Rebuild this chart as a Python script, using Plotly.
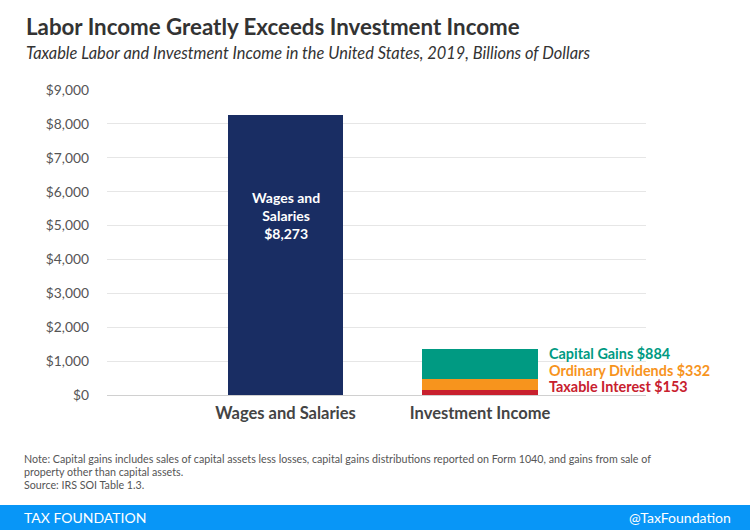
import plotly.graph_objects as go

categories = ["Wages and Salaries", "Investment Income"]
wages = [8273]
inv_labels = ["Taxable Interest", "Ordinary Dividends", "Capital Gains"]
inv_values = [153, 332, 884]
inv_colors = ["#c8202e", "#f7941d", "#009a82"]
tick_vals = [0, 1000, 2000, 3000, 4000, 5000, 6000, 7000, 8000, 9000]
tick_text = ["$0", "$1,000", "$2,000", "$3,000", "$4,000", "$5,000", "$6,000", "$7,000", "$8,000", "$9,000"]

W, H = 750, 530
L, R, T, B = 107, 104, 90, 135
PW = W - L - R
PH = H - T - B

def px(x):
    return (x - L) / PW

def py(y):
    return (H - B - y) / PH

fig = go.Figure()
fig.add_trace(go.Bar(x=[0], y=wages, width=0.59, marker=dict(color="#192d63", line=dict(width=0)),
                     hoverinfo="skip", showlegend=False))
for lab, v, c in zip(inv_labels, inv_values, inv_colors):
    fig.add_trace(go.Bar(x=[1], y=[v], width=0.595, marker=dict(color=c, line=dict(width=0)),
                         name=lab, hoverinfo="skip", showlegend=False))

annotations = []
annotations.append(dict(x=0, y=5300, xref="x", yref="y", showarrow=False,
                        text="<b>Wages and<br>Salaries<br>$%s</b>" % format(wages[0], ","),
                        font=dict(family="Lato", size=14, color="white"), align="center"))
label_py = [386, 370, 353]
for lab, v, c, yy in zip(inv_labels, inv_values, inv_colors, label_py):
    annotations.append(dict(x=px(547), y=py(yy), xref="paper", yref="paper", showarrow=False,
                            xanchor="left", yanchor="middle",
                            text="<b>%s $%d</b>" % (lab, v),
                            font=dict(family="Lato", size=14.4, color=c)))
annotations.append(dict(x=px(24), y=py(27), xref="paper", yref="paper", showarrow=False,
                        xanchor="left", yanchor="middle",
                        text="<b>Labor Income Greatly Exceeds Investment Income</b>",
                        font=dict(family="Lato", size=22.3, color="#333333")))
annotations.append(dict(x=px(24), y=py(52), xref="paper", yref="paper", showarrow=False,
                        xanchor="left", yanchor="middle",
                        text="<i>Taxable Labor and Investment Income in the United States, 2019, Billions of Dollars</i>",
                        font=dict(family="Lato", size=16.4, color="#333333")))
notes = ["Note: Capital gains includes sales of capital assets less losses, capital gains distributions reported on Form 1040, and gains from sale of",
         "property other than capital assets.",
         "Source: IRS SOI Table 1.3."]
for i, n in enumerate(notes):
    annotations.append(dict(x=px(22), y=py(458 + i * 13), xref="paper", yref="paper", showarrow=False,
                            xanchor="left", yanchor="middle", text=n,
                            font=dict(family="Lato", size=10.7, color="#555555")))
annotations.append(dict(x=px(22), y=py(517), xref="paper", yref="paper", showarrow=False,
                        xanchor="left", yanchor="middle", text="TAX FOUNDATION",
                        font=dict(family="Lato", size=14, color="white")))
annotations.append(dict(x=px(733), y=py(517), xref="paper", yref="paper", showarrow=False,
                        xanchor="right", yanchor="middle", text="@TaxFoundation",
                        font=dict(family="Lato", size=14, color="white")))

shapes = [dict(type="rect", xref="paper", yref="paper", x0=px(-5), x1=px(755), y0=py(535), y1=py(505),
               fillcolor="#0896f7", line=dict(width=0), layer="above")]

fig.update_layout(
    width=W, height=H, barmode="stack", bargap=0,
    margin=dict(l=L, r=R, t=T, b=B, pad=0),
    paper_bgcolor="white", plot_bgcolor="white",
    font=dict(family="Lato"),
    annotations=annotations, shapes=shapes,
    xaxis=dict(range=[-0.918, 1.853], tickvals=[0, 1], ticktext=["<b>%s</b>" % c for c in categories],
               tickfont=dict(family="Lato", size=16.5, color="#444444"), showgrid=False, zeroline=False,
               showline=False, ticks="", ticklabelstandoff=6, fixedrange=True),
    yaxis=dict(range=[0, 9000], tickvals=tick_vals, ticktext=tick_text,
               tickfont=dict(family="Lato", size=13.8, color="#555555"), showgrid=True,
               gridcolor="#e6e6e6", gridwidth=1, zeroline=True, zerolinecolor="#d0d0d0", zerolinewidth=1,
               ticks="", ticklabelstandoff=17, fixedrange=True),
)

fig.write_html("out.html", config={"displayModeBar": False},
               post_script="document.body.style.margin='0';document.body.style.overflow='hidden';")
